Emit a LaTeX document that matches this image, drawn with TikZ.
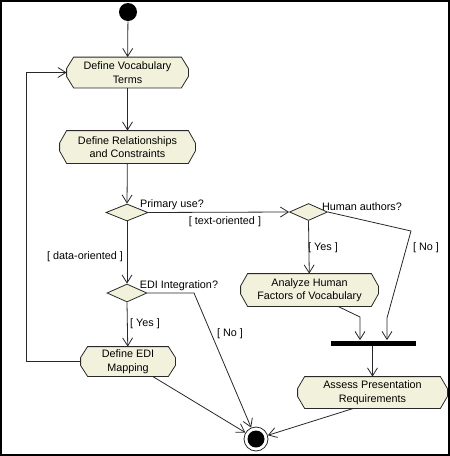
\documentclass[tikz,border=0pt]{standalone}
\usepackage{fontspec}
\setmainfont{Liberation Sans}
\usetikzlibrary{arrows.meta,shapes.geometric,calc,backgrounds}
\definecolor{actfill}{RGB}{242,242,220}
\definecolor{ln}{RGB}{40,40,40}
\begin{document}
\begin{tikzpicture}[x=1pt,y=-1pt,
  font=\fontsize{10.8}{13.5}\selectfont,
  line width=0.8pt,draw=ln,
  act/.style={rectangle,inner sep=0pt,align=center},
  actshape/.style={fill=actfill,draw=ln,line width=0.8pt},
  dec/.style={diamond,draw=ln,fill=actfill,inner sep=0pt},
  arr/.style={draw=ln,-{Straight Barb[length=8pt,width=10pt]}},
  lbl/.style={inner sep=0pt}]
\useasboundingbox (0,0) rectangle (450,456);
\draw[line width=1.5pt,black] (1,1) rectangle (449,455);
% nodes
\node[circle,fill=black,minimum size=18pt,inner sep=0pt] (start) at (128,12) {};
\node[act,minimum width=121pt,minimum height=30pt] (vocab) at (127.5,72.5) {Define Vocabulary\\Terms};
\node[act,minimum width=135pt,minimum height=32pt] (rel) at (127.5,147) {Define Relationships\\and Constraints};
\node[dec,minimum width=42pt,minimum height=17pt] (d1) at (127,212.5) {};
\node[dec,minimum width=38pt,minimum height=17pt] (d2) at (308.5,212) {};
\node[dec,minimum width=40pt,minimum height=18pt] (edi) at (127,293) {};
\node[act,minimum width=94pt,minimum height=29pt] (ediMap) at (128,361.5) {Define EDI\\Mapping};
\node[act,minimum width=137pt,minimum height=32pt] (analyze) at (309.5,290) {Analyze Human\\Factors of Vocabulary};
\node[rectangle,fill=black,minimum width=85pt,minimum height=5pt,inner sep=0pt] (bar) at (373.5,343) {};
\node[act,minimum width=149pt,minimum height=31pt] (assess) at (372.5,392.5) {Assess Presentation\\Requirements};
\node[circle,draw=ln,fill=white,minimum size=24pt,inner sep=0pt,line width=0.8pt,
  path picture={\fill[black] (path picture bounding box.center) circle (8.5pt);}] (final) at (256,439) {};
% action outlines
\begin{scope}[on background layer]
\foreach \n in {vocab,rel,ediMap,analyze,assess}
  \filldraw[actshape] ($(\n.north west)+(7,0)$) -- ($(\n.north east)+(-7,0)$)
    -- ($(\n.east)+(0,-4)$) -- ($(\n.east)+(0,4)$)
    -- ($(\n.south east)+(-7,0)$) -- ($(\n.south west)+(7,0)$)
    -- ($(\n.west)+(0,4)$) -- ($(\n.west)+(0,-4)$) -- cycle;
\end{scope}
% labels
\node[lbl] (lprim) at (172,205) {Primary use?};
\node[lbl] (ltext) at (225,222) {[ text-oriented ]};
\node[lbl] (lhum) at (362,207) {Human authors?};
\node[lbl] (ldata) at (85,257) {[ data-oriented ]};
\node[lbl] (lediq) at (179,286) {EDI Integration?};
\node[lbl] (lyes1) at (145,324) {[ Yes ]};
\node[lbl] (lno1) at (230,334) {[ No ]};
\node[lbl] (lyes2) at (323,248) {[ Yes ]};
\node[lbl] (lno2) at (426,248) {[ No ]};
% helper coordinates
\coordinate (lp) at (26,72.5);
\coordinate (ediNo) at (194,293);
\coordinate (noA) at (411,231);
\coordinate (noB) at (387,318);
\coordinate (anA) at (360,317);
% connectors
\draw[arr] (start) -- (vocab);
\draw[arr] (vocab) -- (rel);
\draw[arr] (rel) -- (d1.north);
\draw[arr] (d1.east) -- (d2.west);
\draw[arr] (d1.south) -- (edi.north);
\draw[arr] (edi.south) -- (ediMap);
\draw[arr] (edi.east) -- (ediNo) -- (final);
\draw[arr] (ediMap) -- (final);
\draw[arr] (ediMap.west) -| (lp) -- (vocab.west);
\draw[arr] (d2.south) -- (analyze);
\draw[arr] (d2.east) -- (noA) -- (noB) -- (noB |- bar.north);
\draw[arr] ($(analyze.south)+(28.5,0)$) -- (anA) -- (anA |- bar.north);
\draw[arr] (bar.south -| assess.north) -- (assess.north);
\draw[arr] ($(assess.south)+(-19,0)$) -- (final);
\end{tikzpicture}
\end{document}
